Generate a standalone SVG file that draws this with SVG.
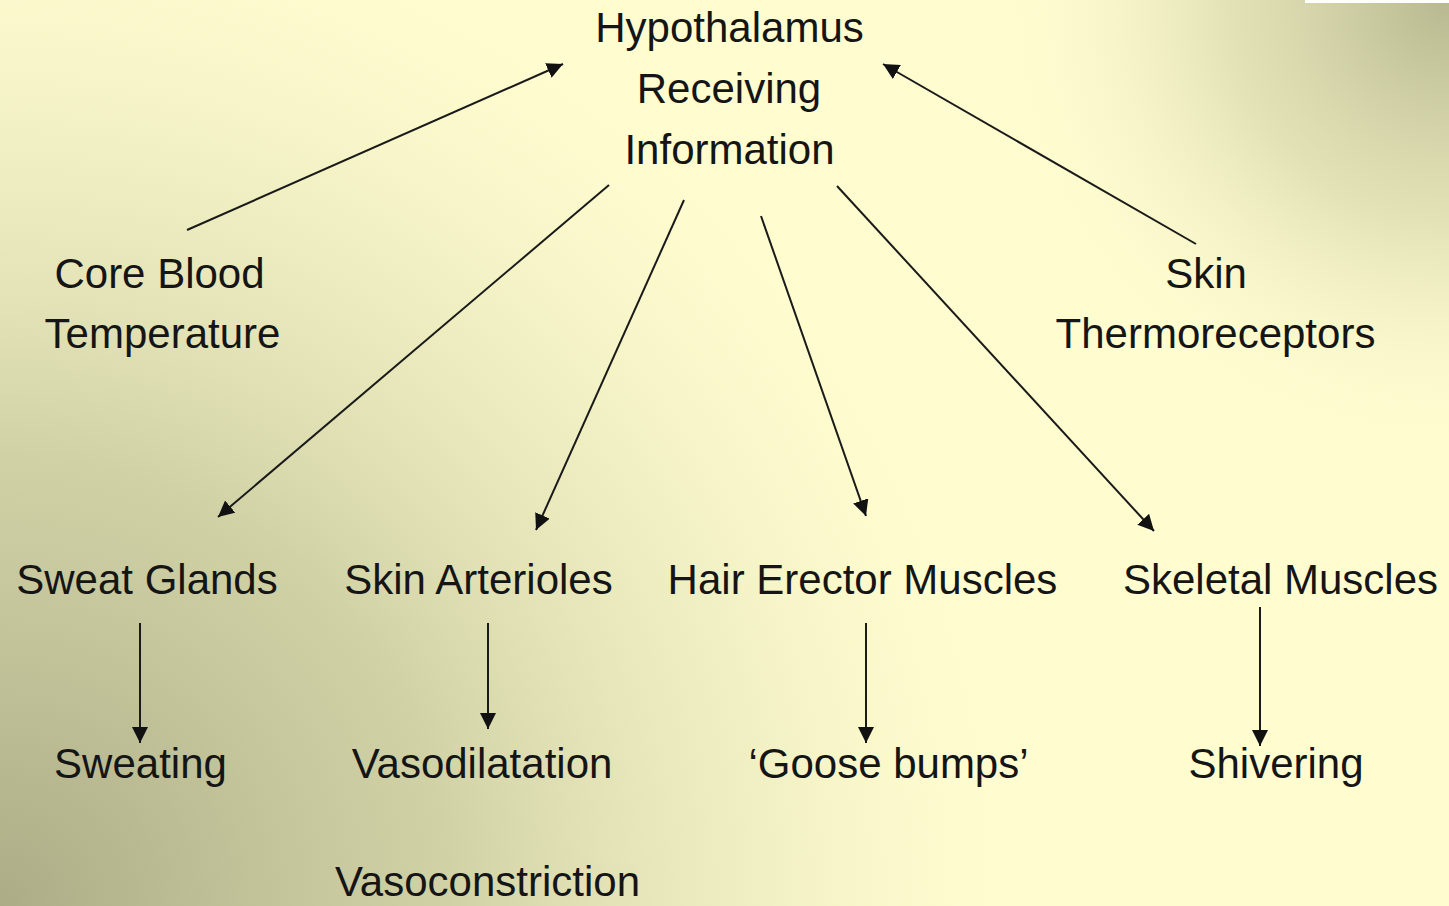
<svg xmlns="http://www.w3.org/2000/svg" width="1449" height="906" viewBox="0 0 1449 906">
<defs>
<radialGradient id="bl" gradientUnits="userSpaceOnUse" cx="0" cy="906" r="1000">
<stop offset="0" stop-color="#acac86" stop-opacity="1"/>
<stop offset="0.45" stop-color="#c8ca9e" stop-opacity="0.85"/>
<stop offset="0.75" stop-color="#d8d9ad" stop-opacity="0.4"/>
<stop offset="1" stop-color="#e8e8bc" stop-opacity="0"/>
</radialGradient>
<radialGradient id="tr" gradientUnits="userSpaceOnUse" cx="1449" cy="0" r="440">
<stop offset="0" stop-color="#b8b890" stop-opacity="1"/>
<stop offset="0.5" stop-color="#d0d0a6" stop-opacity="0.6"/>
<stop offset="1" stop-color="#f0f0c4" stop-opacity="0"/>
</radialGradient>
<marker id="ah" markerUnits="userSpaceOnUse" viewBox="0 0 16 16" refX="16" refY="8" markerWidth="16" markerHeight="16" orient="auto">
<path d="M0,0 L16,8 L0,16 z" fill="#111"/>
</marker>
<style>
.t{font-family:"Liberation Sans",Arial,sans-serif;font-size:42px;fill:#151515;text-anchor:middle}
.c line{stroke:#1a1a1a;stroke-width:2;marker-end:url(#ah)}
</style>
</defs>
<rect width="1449" height="906" fill="#fffdd0"/>
<rect width="1449" height="906" fill="url(#bl)"/>
<rect width="1449" height="906" fill="url(#tr)"/>
<rect x="1305" y="0" width="144" height="3" fill="#ffffff"/>
<g class="c" id="connectors">
<line x1="187" y1="230" x2="563" y2="64"/>
<line x1="1196" y1="244" x2="883" y2="64"/>
<line x1="609" y1="185" x2="218" y2="517"/>
<line x1="684" y1="200" x2="536" y2="530"/>
<line x1="761" y1="216" x2="866" y2="516"/>
<line x1="837" y1="186" x2="1154" y2="531"/>
<line x1="140" y1="623" x2="140" y2="743"/>
<line x1="488" y1="623" x2="488" y2="729"/>
<line x1="866" y1="623" x2="866" y2="743"/>
<line x1="1260" y1="607" x2="1260" y2="746"/>
</g>
<g id="hypothalamus"><text class="t" x="729.5" y="42">Hypothalamus</text><text class="t" x="729" y="103">Receiving</text><text class="t" x="729.5" y="164">Information</text></g>
<g id="core"><text class="t" x="159.5" y="288">Core Blood</text><text class="t" x="162.5" y="348">Temperature</text></g>
<g id="skin"><text class="t" x="1206" y="288">Skin</text><text class="t" x="1215.5" y="348">Thermoreceptors</text></g>
<g id="sweatglands"><text class="t" x="147" y="594">Sweat Glands</text></g>
<g id="arterioles"><text class="t" x="478.5" y="594">Skin Arterioles</text></g>
<g id="hair"><text class="t" x="862.5" y="594">Hair Erector Muscles</text></g>
<g id="skeletal"><text class="t" x="1280.5" y="594">Skeletal Muscles</text></g>
<g id="sweating"><text class="t" x="140.5" y="778">Sweating</text></g>
<g id="vasodilatation"><text class="t" x="482" y="778">Vasodilatation</text></g>
<g id="goose"><text class="t" x="888.5" y="778">‘Goose bumps’</text></g>
<g id="shivering"><text class="t" x="1276" y="778">Shivering</text></g>
<g id="vasoconstriction"><text class="t" x="487.5" y="896">Vasoconstriction</text></g>
</svg>
